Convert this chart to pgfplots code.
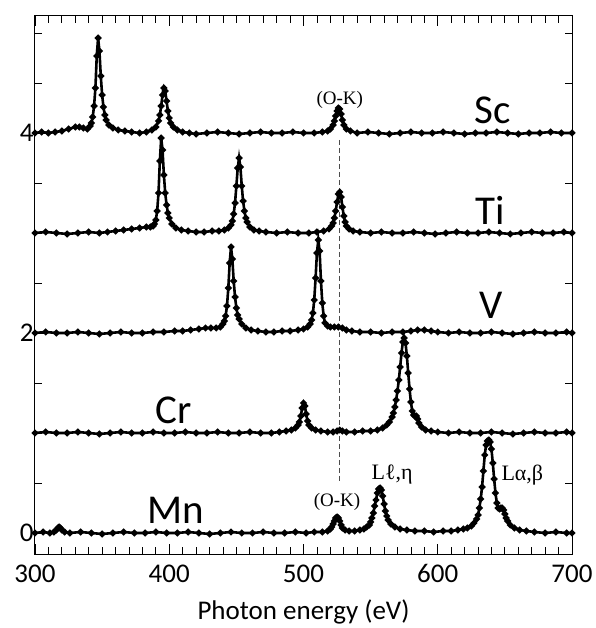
\documentclass[border=0pt]{standalone}
\usepackage{pgfplots}
\pgfplotsset{compat=1.18}
\usepackage{fontspec}
\setmainfont{Carlito}
\newfontfamily\serif{Liberation Serif}

\pgfplotstableread{
x y
300 4.00
305 4.01
310 4.00
315 4.01
320 4.02
325 4.04
330 4.06
333 4.06
336 4.05
339 4.04
341 4.07
342 4.10
343 4.16
344 4.27
345 4.45
346 4.77
347 4.95
348 4.82
349 4.57
350 4.38
351 4.26
352 4.18
353 4.13
355 4.08
358 4.05
362 4.03
367 4.02
372 4.01
378 4.00
383 4.01
387 4.03
390 4.06
392 4.12
393 4.18
394 4.27
395 4.38
396 4.45
397 4.42
398 4.32
399 4.22
400 4.15
401 4.10
403 4.06
406 4.03
410 4.01
415 4.00
420 3.99
428 4.00
436 4.01
444 4.00
452 3.99
460 4.00
468 4.01
476 4.00
484 4.00
492 4.01
500 4.00
508 4.00
514 4.01
518 4.02
520 4.04
522 4.08
523 4.12
524 4.17
525 4.22
526 4.25
527 4.24
528 4.19
529 4.13
530 4.08
532 4.04
535 4.02
540 4.00
548 4.01
556 4.00
564 3.99
572 4.00
580 4.01
588 4.00
596 4.00
604 4.01
612 4.00
620 3.99
628 4.00
636 4.00
644 4.01
652 4.00
660 3.99
668 4.00
676 4.00
684 4.01
692 4.00
700 4.00
}\scdata

\pgfplotstableread{
x y
300 3.00
308 3.01
316 3.00
324 2.99
332 3.00
340 3.01
348 3.00
354 3.01
360 3.02
366 3.03
372 3.04
378 3.05
383 3.06
386 3.06
388 3.07
389 3.09
390 3.13
391 3.22
392 3.40
393 3.72
394 3.95
395 3.83
396 3.58
397 3.40
398 3.28
399 3.20
400 3.15
402 3.09
405 3.05
409 3.03
414 3.02
420 3.01
426 3.01
432 3.02
437 3.02
441 3.03
444 3.05
446 3.08
447 3.12
448 3.19
449 3.30
450 3.47
451 3.65
452 3.75
453 3.66
454 3.47
455 3.32
456 3.22
457 3.15
458 3.11
460 3.06
463 3.03
467 3.02
472 3.01
480 3.00
488 3.01
496 3.00
504 3.00
510 3.01
515 3.02
519 3.04
521 3.07
522 3.10
523 3.15
524 3.22
525 3.31
526 3.39
527 3.41
528 3.36
529 3.26
530 3.17
531 3.11
532 3.07
534 3.04
537 3.02
542 3.01
550 3.00
558 3.01
566 3.00
574 3.00
582 3.01
590 3.00
598 2.99
606 3.00
614 3.01
622 3.00
630 3.00
638 3.01
646 3.00
654 2.99
662 3.00
670 3.01
678 3.00
686 3.00
694 3.01
700 3.00
}\tidata

\pgfplotstableread{
x y
300 2.00
308 2.01
316 2.00
324 2.00
332 2.01
340 2.00
348 1.99
356 2.00
364 2.01
372 2.00
380 2.00
388 2.01
396 2.01
404 2.02
410 2.02
416 2.03
422 2.04
427 2.05
431 2.05
435 2.05
438 2.06
440 2.09
441 2.12
442 2.17
443 2.27
444 2.45
445 2.70
446 2.86
447 2.74
448 2.52
449 2.36
450 2.25
451 2.18
452 2.14
454 2.09
457 2.05
461 2.03
466 2.02
472 2.01
478 2.01
484 2.02
490 2.02
496 2.03
500 2.04
503 2.06
505 2.09
506 2.13
507 2.20
508 2.33
509 2.55
510 2.80
511 2.93
512 2.82
513 2.52
514 2.30
515 2.17
516 2.10
518 2.07
520 2.06
523 2.06
526 2.06
529 2.05
532 2.03
536 2.02
542 2.01
550 2.01
558 2.00
566 2.01
574 2.01
580 2.02
585 2.03
590 2.03
595 2.02
600 2.01
608 2.00
616 2.01
624 2.00
632 2.00
640 2.01
648 2.00
656 1.99
664 2.00
672 2.01
680 2.00
688 2.00
696 2.01
700 2.00
}\vdata

\pgfplotstableread{
x y
300 1.00
308 1.01
316 1.00
324 1.00
332 1.01
340 1.00
348 0.99
356 1.00
364 1.01
372 1.00
380 1.00
388 1.01
396 1.00
404 1.00
412 1.01
420 1.00
428 1.00
436 1.01
444 1.00
452 1.00
460 1.01
468 1.00
476 1.00
482 1.01
487 1.02
491 1.03
494 1.05
496 1.08
497 1.11
498 1.17
499 1.25
500 1.30
501 1.27
502 1.19
503 1.12
504 1.08
506 1.05
509 1.03
513 1.02
518 1.01
522 1.01
525 1.02
527 1.03
529 1.02
532 1.01
538 1.01
544 1.02
550 1.02
555 1.03
559 1.05
562 1.08
564 1.11
566 1.16
567 1.20
568 1.26
569 1.33
570 1.42
571 1.53
572 1.66
573 1.80
574 1.91
575 1.95
576 1.90
577 1.77
578 1.60
579 1.44
580 1.31
581 1.22
582 1.18
583 1.17
584 1.17
585 1.14
586 1.10
588 1.06
591 1.03
595 1.02
600 1.01
608 1.00
616 1.01
624 1.00
632 1.00
640 1.01
648 1.00
656 0.99
664 1.00
672 1.01
680 1.00
688 1.00
696 1.01
700 1.00
}\crdata

\pgfplotstableread{
x y
300 0.00
306 0.01
311 0.00
314 0.01
316 0.03
317 0.05
318 0.06
319 0.05
320 0.03
322 0.01
326 0.00
334 0.01
342 0.00
350 -0.01
358 0.00
366 0.01
374 0.00
382 0.00
390 0.01
398 0.00
406 0.00
414 0.01
422 0.00
430 -0.01
438 0.00
446 0.01
454 0.00
462 0.00
470 0.01
478 0.00
486 0.00
494 0.01
502 0.00
508 0.01
514 0.01
518 0.02
520 0.04
521 0.06
522 0.09
523 0.12
524 0.15
525 0.16
526 0.15
527 0.12
528 0.08
529 0.05
531 0.03
534 0.02
538 0.02
542 0.03
545 0.04
547 0.06
549 0.08
550 0.11
551 0.15
552 0.20
553 0.27
554 0.33
555 0.40
556 0.44
557 0.45
558 0.43
559 0.37
560 0.29
561 0.22
562 0.17
563 0.13
565 0.09
568 0.06
572 0.04
577 0.03
583 0.02
590 0.02
597 0.01
604 0.02
610 0.02
615 0.03
619 0.04
622 0.05
625 0.07
627 0.10
629 0.14
630 0.18
631 0.25
632 0.34
633 0.46
634 0.62
635 0.78
636 0.88
637 0.92
638 0.93
639 0.91
640 0.84
641 0.70
642 0.54
643 0.40
644 0.30
645 0.25
646 0.24
647 0.25
648 0.25
649 0.23
650 0.19
651 0.15
652 0.12
654 0.08
657 0.05
661 0.03
666 0.02
672 0.01
680 0.00
688 0.01
696 0.00
700 0.00
}\mndata

\begin{document}
\begin{tikzpicture}
\begin{axis}[name=ax,
 scale only axis,width=537pt,height=538pt,
 xmin=300,xmax=700,ymin=-0.21,ymax=5.17,
 xtick={300,400,...,700},minor x tick num=9,
 ytick={0,2,4},minor ytick={0.5,1,...,5},
 tick align=inside,major tick length=10pt,minor tick length=7pt,
 every tick/.style={black,line width=0.8pt},
 axis line style={line width=1pt},
 tick label style={font=\fontsize{27}{30}\selectfont},
 /pgf/number format/assume math mode=true,
 yticklabel style={xshift=2pt},
 xticklabel style={yshift=-7pt},
 xlabel={Photon energy (eV)},
 xlabel style={font=\fontsize{27}{30}\selectfont,at={(axis description cs:0.5,0)},anchor=base,yshift=-65pt},
 clip=false,
 spec/.style={black,line width=2.6pt,mark=*,mark size=1.9pt},
]
\addplot[gray!60!black,dash pattern=on 5pt off 3pt,line width=1.1pt] coordinates {(527,3.93) (527,0.5)};
\addplot[spec] table[x=x,y=y] {\scdata};
\addplot[spec] table[x=x,y=y] {\tidata};
\addplot[spec] table[x=x,y=y] {\vdata};
\addplot[spec] table[x=x,y=y] {\crdata};
\addplot[spec] table[x=x,y=y] {\mndata};
\node[font=\fontsize{41}{44}\selectfont] at (axis cs:641,4.23) {Sc};
\node[font=\fontsize{41}{44}\selectfont] at (axis cs:639,3.23) {Ti};
\node[font=\fontsize{41}{44}\selectfont] at (axis cs:640,2.28) {V};
\node[font=\fontsize{41}{44}\selectfont] at (axis cs:403,1.23) {Cr};
\node[font=\fontsize{41}{44}\selectfont] at (axis cs:405,0.23) {Mn};
\node[font=\serif\fontsize{19}{22}\selectfont] at (axis cs:527,4.33) {(O-K)};
\node[font=\serif\fontsize{19}{22}\selectfont] at (axis cs:525,0.31) {(O-K)};
\node[font=\serif\fontsize{22}{25}\selectfont] at (axis cs:566,0.58) {Lℓ,η};
\node[font=\serif\fontsize{22}{25}\selectfont] at (axis cs:663,0.58) {Lα,β};
\end{axis}
\pgfresetboundingbox
\path ([xshift=-35pt,yshift=-74pt]ax.south west) rectangle ([xshift=23pt,yshift=16pt]ax.north east);
\end{tikzpicture}
\end{document}
